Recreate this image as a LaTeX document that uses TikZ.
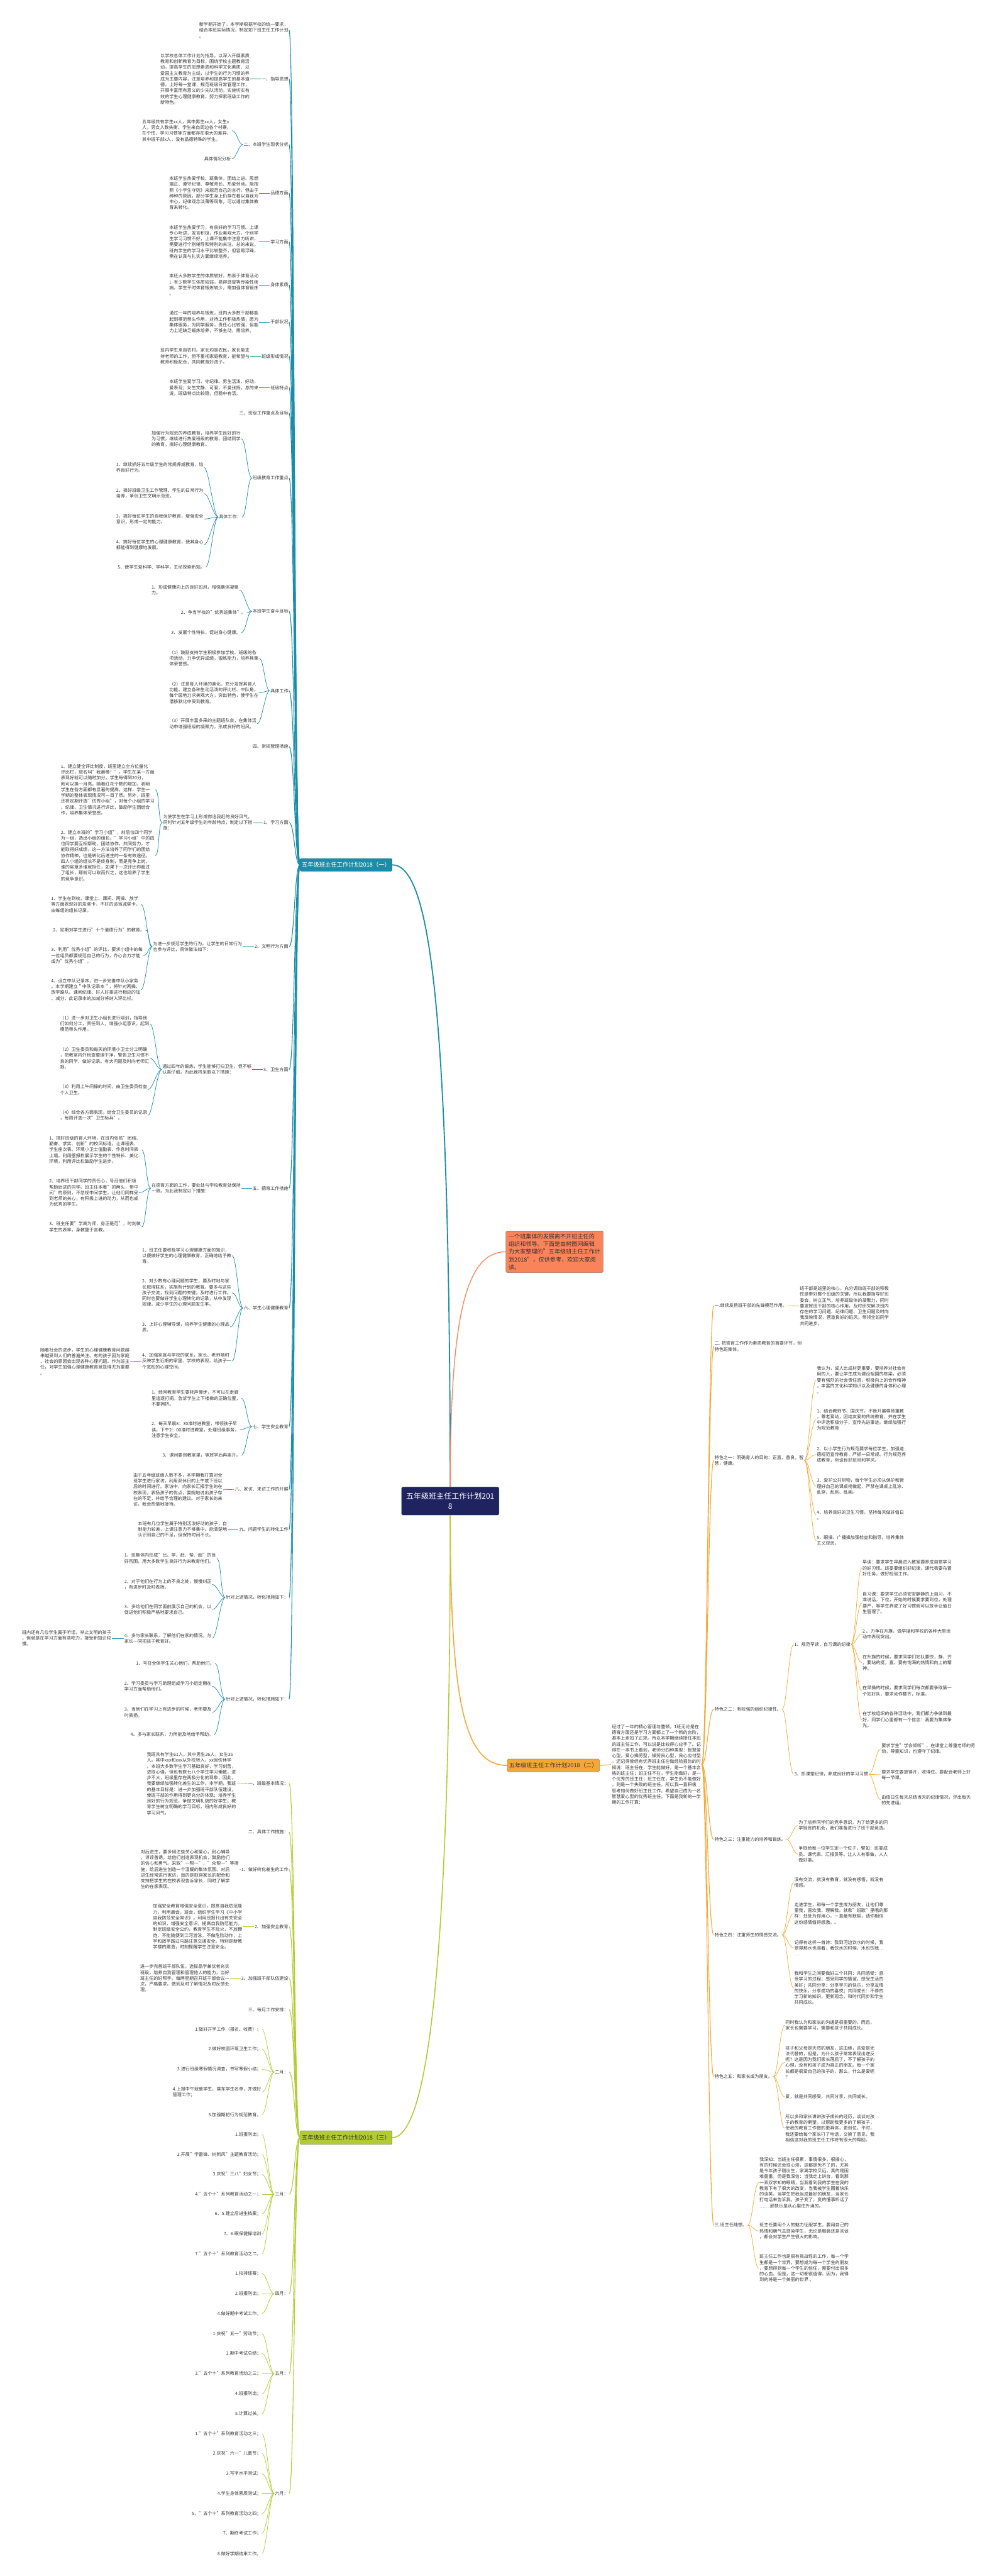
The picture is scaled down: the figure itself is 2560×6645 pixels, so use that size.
\documentclass[tikz,border=0pt]{standalone}
\usepackage{fontspec}
\setmainfont{Noto Sans CJK SC}
\definecolor{inkc}{HTML}{333333}
\definecolor{navyc}{HTML}{1F2461}
\definecolor{tealc}{HTML}{1A8EA9}
\definecolor{orangec}{HTML}{F5A736}
\definecolor{greenc}{HTML}{B3CB32}
\definecolor{coralc}{HTML}{F9845A}
\begin{document}
\begin{tikzpicture}[x=1pt,y=-1pt]
    % Define styles for shapes
    \tikzstyle{txt} = [inner sep=0pt, outer sep=2pt, align=left, text=inkc, font=\fontsize{11.5}{15}\selectfont]
    \tikzstyle{lbl} = [inner sep=0pt, outer sep=2pt, text=inkc, font=\fontsize{11.5}{15}\selectfont]
    \tikzstyle{rootbox} = [draw=tealc!60, fill=navyc, text=white, rounded corners=4pt, minimum width=252pt, minimum height=73pt, align=center, font=\fontsize{19.5}{25.5}\selectfont]
    \tikzstyle{branchbox} = [draw=black!75, rounded corners=3pt, minimum width=238pt, minimum height=33pt, font=\fontsize{15}{18}\selectfont]
    \tikzstyle{introbox} = [draw=black!75, fill=coralc, text=inkc, rounded corners=3pt, inner sep=7pt, align=left, font=\fontsize{14.8}{20}\selectfont]
    \tikzstyle{tealline} = [tealc, line width=1.8pt]
    \tikzstyle{tealthin} = [tealc, line width=1.2pt]
    \tikzstyle{orangeline} = [orangec, line width=1.8pt]
    \tikzstyle{orangethin} = [orangec, line width=1.2pt]
    \tikzstyle{greenline} = [greenc, line width=1.8pt]
    \tikzstyle{greenthin} = [greenc, line width=1.2pt]

    \useasboundingbox (0,0) rectangle (2560,6645);

    % Draw the centre and the three plans
    \node[rootbox] (root) at (1162,3872) {五年级班主任工作计划201\\8};
    \node[branchbox, fill=tealc, text=white] (b1) at (893,2231) {五年级班主任工作计划2018（一）};
    \node[branchbox, fill=orangec, text=inkc] (b2) at (1428,4554) {五年级班主任工作计划2018（二）};
    \node[branchbox, fill=greenc, text=inkc, minimum height=35pt] (b3) at (893,5514) {五年级班主任工作计划2018（三）};
    \node[introbox] (intro) at (1431,3229) {一个班集体的发展离不开班主任的\\组织和领导。下面是由树图网编辑\\为大家整理的"五年级班主任工作计\\划2018"，仅供参考，欢迎大家阅\\读。};

    \draw[tealc, line width=3pt] (root.north) .. controls (1160,2600) and (1110,2231) .. (b1.east);
    \draw[coralc, line width=2.2pt] (root.north) .. controls (1162,3400) and (1200,3229) .. (intro.west);
    \draw[orangec, line width=2.6pt] (root.south) .. controls (1162,4400) and (1200,4554) .. (b2.west);
    \draw[greenc, line width=2.6pt] (root.south) .. controls (1162,5000) and (1110,5514) .. (b3.east);

    % Plan one
    \node[txt, anchor=east] (a01) at (746,78) {新学期开始了，本学期根据学校的统一要求，\\结合本班实际情况，制定如下班主任工作计划\\。};
    \node[lbl, anchor=east] (a02) at (746,204) {一、指导思想};
    \node[txt, anchor=west] (a02t) at (412,204) {以学校总体工作计划为指导，以深入开展素质\\教育和创新教育为目标，围绕学校主题教育活\\动，提高学生的思想素质和科学文化素质、以\\爱国主义教育为主线，以学生的行为习惯的养\\成为主要内容，注意培养和提高学生的基本道\\德。上好每一堂课，规范班级日常管理工作，\\开展丰富而有意义的少先队活动，实施切实有\\效的学生心理健康教育。努力探索班级工作的\\新特色。};
    \node[lbl, anchor=east] (a03) at (746,373) {二、本班学生现状分析};
    \node[txt, anchor=west] (a03a) at (365,337) {五年级共有学生xx人，其中男生xx人，女生x\\人，男女人数失衡。学生来自周边各个村寨，\\在个性、学习习惯等方面都存在很大的差异，\\其中班干部x人，没有品德特殊的学生。};
    \node[lbl, anchor=east] (a03b) at (598,410) {具体情况分析};
    \node[lbl, anchor=east] (a04) at (746,498) {品德方面};
    \node[txt, anchor=west] (a04t) at (435,498) {本班学生热爱学校、班集体，团结上进、思想\\端正、遵守纪律、尊敬师长、热爱劳动。能按\\照《小学生守则》来规范自己的言行。但由于\\种种的原因，部分学生身上仍存在着以自我为\\中心，纪律观念淡薄等现象，可以通过集体教\\育来转化。};
    \node[lbl, anchor=east] (a05) at (746,624) {学习方面};
    \node[txt, anchor=west] (a05t) at (435,624) {本班学生热爱学习，有良好的学习习惯。上课\\专心听讲，发言积极，作业美观大方。个别学\\生学习习惯不好，上课不能集中注意力听讲，\\需要进行个别辅导和特别的关注。总的来说，\\班内学生的学习水平比较整齐，但容易浮躁，\\需在认真与扎实方面继续培养。};
    \node[lbl, anchor=east] (a06) at (746,735) {身体素质};
    \node[txt, anchor=west] (a06t) at (435,735) {本班大多数学生的体质较好，热衷于体育活动\\；有少数学生体质较弱，易得感冒等传染性疾\\病。学生平时体育锻炼较少，需加强体育锻炼\\。};
    \node[lbl, anchor=east] (a07) at (746,831) {干部状况};
    \node[txt, anchor=west] (a07t) at (435,831) {通过一年的培养与锻炼，班内大多数干部都能\\起到模范带头作用，对待工作积极热情，愿为\\集体服务，为同学服务，责任心比较强，但能\\力上还缺乏锻炼培养，不够主动，需培养。};
    \node[lbl, anchor=east] (a08) at (746,919) {班级形成情况};
    \node[txt, anchor=west] (a08t) at (412,919) {班内学生来自农村。家长均是农民。家长能支\\持老师的工作，但不重视家庭教育，能希望与\\教师积极配合，共同教育好孩子。};
    \node[lbl, anchor=east] (a09) at (746,1000) {班级特点};
    \node[txt, anchor=west] (a09t) at (435,1000) {本班学生爱学习、守纪律。男生活泼、好动，\\爱表现；女生文静、可爱，不爱张扬。总的来\\说，班级特点比较稳，但稳中有活。};
    \node[lbl, anchor=east] (a10) at (746,1066) {三、班级工作重点及目标};
    \node[lbl, anchor=east] (a11) at (746,1233) {班级教育工作重点};
    \node[txt, anchor=west] (a11a) at (389,1132) {加强行为规范的养成教育，培养学生良好的行\\为习惯，继续进行热爱班级的教育、团结同学\\的教育，搞好心理健康教育。};
    \node[lbl, anchor=west] (a11b) at (563,1334) {具体工作：};
    \node[txt, anchor=west] (a11b1) at (298,1206) {1、继续抓好五年级学生的常规养成教育，培\\养良好行为。};
    \node[txt, anchor=west] (a11b2) at (298,1273) {2、搞好班级卫生工作管理、学生的日常行为\\培养，争创卫生文明示范班。};
    \node[txt, anchor=west] (a11b3) at (298,1339) {3、搞好每位学生的自我保护教育，增强安全\\意识，形成一定的能力。};
    \node[txt, anchor=west] (a11b4) at (298,1405) {4、搞好每位学生的心理健康教育，使其身心\\都能得到健康地发展。};
    \node[txt, anchor=west] (a11b5) at (302,1463) {5、使学生爱科学、学科学，主动探索新知。};
    \node[lbl, anchor=east] (a12) at (746,1577) {本班学生奋斗目标};
    \node[txt, anchor=west] (a12a) at (389,1522) {1、形成健康向上的良好班风，增强集体凝聚\\力。};
    \node[txt, anchor=west] (a12b) at (465,1580) {2、争当学校的"优秀班集体"。};
    \node[txt, anchor=west] (a12c) at (440,1632) {3、发展个性特长，促进身心健康。};
    \node[lbl, anchor=east] (a13) at (746,1782) {具体工作};
    \node[txt, anchor=west] (a13a) at (435,1698) {（1）鼓励支持学生积极参加学校、班级的各\\项活动，力争优异成绩，锻炼能力，培养其集\\体荣誉感。};
    \node[txt, anchor=west] (a13b) at (435,1787) {（2）注意育人环境的美化，充分发挥其育人\\功能。建立各种生动活泼的评比栏、中队角，\\每个园地力求美观大方，突出特色，使学生在\\潜移默化中受到教育。};
    \node[txt, anchor=west] (a13c) at (435,1867) {（3）开展丰富多采的主题班队会，在集体活\\动中增强班级的凝聚力，形成良好的班风。};
    \node[lbl, anchor=east] (a14) at (746,1926) {四、常规管理措施};
    \node[lbl, anchor=east] (a15) at (746,2122) {1、学习方面};
    \node[txt, anchor=west] (a15t) at (419,2122) {为使学生在学习上形成你追我赶的良好风气，\\同时针对五年级学生的年龄特点，制定以下措\\施：};
    \node[txt, anchor=west] (a15t1) at (155,2037) {1、建立健全评比制度，班里建立全方位量化\\评比栏，取名叫"我最棒！"。学生在某一方面\\表现好就可以随时加分，学生每得到20分，\\就可以换一月亮。随着红花个数的增加，表明\\学生在各方面都有显著的提高。这样，学生一\\学期的整体表现情况可一目了然。另外，班里\\还将定期评选"优秀小组"，对每个小组的学习\\、纪律、卫生情况进行评比，鼓励学生团结合\\作，培养集体荣誉感。};
    \node[txt, anchor=west] (a15t2) at (155,2207) {2、建立本班的"学习小组"，前后位四个同学\\为一组，选出小组的组长。"学习小组"中的四\\位同学要互相帮助，团结协作，共同努力，才\\能取得好成绩，这一方法培养了同学们的团结\\协作精神，也是转化后进生的一条有效途径。\\四人小组的组长不是终身制，而是竞争上岗，\\谁的奖章多谁就担任，如果下一次评比你超过\\了组长，那就可以取而代之，这也培养了学生\\的竞争意识。};
    \node[lbl, anchor=east] (a16) at (746,2442) {2、文明行为方面};
    \node[txt, anchor=west] (a16t) at (393,2442) {为进一步规范学生的行为，让学生的日常行为\\也参与评比，具体做法如下：};
    \node[txt, anchor=west] (a16t1) at (130,2333) {1、学生在到校、课堂上、课间、两操、放学\\等方面表现好的发奖卡，不好的适当减奖卡，\\由每组的组长记录。};
    \node[txt, anchor=west] (a16t2) at (135,2399) {2、定期对学生进行"十个道德行为"的教育。};
    \node[txt, anchor=west] (a16t3) at (130,2465) {3、利用"优秀小组"的评比，要求小组中的每\\一位组员都要规范自己的行为，齐心合力才能\\成为"优秀小组"。};
    \node[txt, anchor=west] (a16t4) at (130,2553) {4、设立中队记录本，进一步完善中队小家务\\。本学期建立＂中队记录本＂，将针对两操、\\放学路队、课间纪律、好人好事进行相应的加\\、减分，此记录本的加减分将纳入评比栏。};
    \node[lbl, anchor=east] (a17) at (746,2759) {3、卫生方面};
    \node[txt, anchor=west] (a17t) at (417,2759) {通过四年的锻炼，学生能够打扫卫生，但不够\\认真仔细，为此我将采取以下措施：};
    \node[txt, anchor=west] (a17t1) at (153,2641) {（1）进一步对卫生小组长进行培训，指导他\\们如何分工，责任到人，增强小组意识，起到\\模范带头作用。};
    \node[txt, anchor=west] (a17t2) at (153,2730) {（2）卫生委员和每天的环境小卫士分工明确\\，把教室内外检查整理干净，警告卫生习惯不\\良的同学，做好记录。有大问题及时向老师汇\\报。};
    \node[txt, anchor=west] (a17t3) at (153,2811) {（3）利用上午间操的时间，由卫生委员检查\\个人卫生。};
    \node[txt, anchor=west] (a17t4) at (153,2877) {（4）综合各方面表现，结合卫生委员的记录\\，每周评选一次"卫生标兵"。};
    \node[lbl, anchor=east] (a18) at (746,3065) {五、德育工作措施};
    \node[txt, anchor=west] (a18t) at (389,3065) {在德育方面的工作，要处处与学校教育处保持\\一致。为此我制定以下措施：};
    \node[txt, anchor=west] (a18t1) at (125,2966) {1、搞好班级的育人环境，在班内张贴"团结、\\勤奋、求实、创新"的校风标语。让课程表、\\学生座次表、环境小卫士值勤表、作息时间表\\上墙。利用壁报栏展示学生的个性特长、美化\\环境，利用评比栏鼓励学生进步。};
    \node[txt, anchor=west] (a18t2) at (125,3077) {2、培养班干部同学的责任心，号召他们积极\\帮助后进的同学。班主任本着"抓两头，带中\\间"的原则，不忽视中间学生，让他们同样受\\到老师的关心，有积极上进的动力，从而也成\\为优秀的学生。};
    \node[txt, anchor=west] (a18t3) at (125,3165) {3、班主任要"学高为师，身正是范"，时刻做\\学生的表率，身教重于言教。};
    \node[lbl, anchor=east] (a19) at (746,3374) {六、学生心理健康教育};
    \node[txt, anchor=west] (a19a) at (365,3239) {1、班主任要积极学习心理健康方面的知识，\\以便做好学生的心理健康教育，正确地给予教\\育。};
    \node[txt, anchor=west] (a19b) at (365,3335) {2、对少数有心理问题的学生，要及时地与家\\长取得联系，实施有计划的教育。要多与这些\\孩子交流，找到问题的关键，及时进行工作。\\同时也要做好学生心理转化的记录，从中发现\\规律，减少学生的心理问题发生率。};
    \node[txt, anchor=west] (a19c) at (365,3423) {3、上好心理辅导课，培养学生健康的心理品\\质。};
    \node[txt, anchor=west] (a19d) at (365,3511) {4、加强家庭与学校的联系，家长、老师随时\\反映学生近期的家里、学校的表现，给孩子一\\个宽松的心理空间。};
    \node[txt, anchor=west] (a19e) at (102,3512) {随着社会的进步，学生的心理健康教育问题越\\来越受到人们的普遍关注。有的孩子因为家庭\\、社会的原因会出现各种心理问题。作为班主\\任，对学生加强心理健康教育就显得尤为重要\\。};
    \node[lbl, anchor=east] (a20) at (746,3680) {七、学生安全教育};
    \node[txt, anchor=west] (a20a) at (389,3607) {1、经常教育学生要轻声慢步，不可以在走廊\\里追逐打闹。告诉学生上下楼梯的正确位置，\\不要拥挤。};
    \node[txt, anchor=west] (a20b) at (389,3688) {2、每天早晨8：30准时进教室，带领孩子早\\读。下午2：00准时进教室，处理班级事务，\\注意学生安全。};
    \node[txt, anchor=west] (a20c) at (417,3754) {3、课间要到教室里，等放学后再离开。};
    \node[lbl, anchor=east] (a21) at (746,3842) {八、家访、来访工作的开展};
    \node[txt, anchor=west] (a21t) at (342,3843) {由于五年级班级人数不多，本学期我打算对全\\班学生进行家访，利用双休日的上午或下班以\\后的时间进行。家访中，向家长汇报学生的在\\校表现，表扬孩子的优点，委婉地说出孩子存\\在的不足，并给予合理的建议。对于家长的来\\访，我会热情地接待。};
    \node[lbl, anchor=east] (a22) at (746,3945) {九、问题学生的转化工作};
    \node[txt, anchor=west] (a22t) at (354,3945) {本班有几位学生属于特别活泼好动的孩子，自\\制能力较差，上课注意力不够集中。能清楚地\\认识到自己的不足，但保持时间不长。};
    \node[lbl, anchor=east] (a23) at (746,4121) {针对上述情况，转化措施如下：};
    \node[txt, anchor=west] (a23a) at (319,4020) {1、班集体内形成"比、学、赶、帮、超"的良\\好氛围，用大多数学生良好行为来教育他们。};
    \node[txt, anchor=west] (a23b) at (319,4087) {2、对于他们在行为上的不良之处，慢慢纠正\\，有进步时及时表扬。};
    \node[txt, anchor=west] (a23c) at (319,4152) {3、多给他们在同学面前展示自己的机会，以\\促进他们积极严格地要求自己。};
    \node[txt, anchor=west] (a23d) at (319,4226) {4、多与家长联系，了解他们在家的情况。与\\家长一同把孩子教育好。};
    \node[txt, anchor=west] (a23e) at (55,4226) {班内还有几位学生属于听话，举止文明的孩子\\，但就是在学习方面有些吃力，接受新知识较\\慢。};
    \node[lbl, anchor=east] (a24) at (746,4383) {针对上述情况，转化措施如下：};
    \node[txt, anchor=west] (a24a) at (349,4291) {1、号召全体学生关心他们，帮助他们。};
    \node[txt, anchor=west] (a24b) at (319,4350) {2、学习委员与学习助理组成学习小组定期在\\学习方面帮助他们。};
    \node[txt, anchor=west] (a24c) at (319,4417) {3、当他们在学习上有进步的时候，老师要及\\时表扬。};
    \node[txt, anchor=west] (a24d) at (335,4474) {4、多与家长联系，力所能及地给予帮助。};

    \foreach \n in {a01,a02,a03,a04,a05,a06,a07,a08,a09,a10,a11,a12,a13,a14,a15,a16,a17,a18,a19,a20,a21,a22,a23,a24}
        \draw[tealline] (b1.west) .. controls +(-14,0) and +(14,0) .. (\n.east);
    \foreach \p/\c in {a02/a02t,a04/a04t,a05/a05t,a06/a06t,a07/a07t,a08/a08t,a09/a09t,a15/a15t,a16/a16t,a17/a17t,a18/a18t,a21/a21t,a22/a22t,a19d/a19e,a23d/a23e}
        \draw[tealthin] (\p.west) -- (\c.east);
    \foreach \p/\c in {a03/a03a,a03/a03b,a11/a11a,a11/a11b,a11b/a11b1,a11b/a11b2,a11b/a11b3,a11b/a11b4,a11b/a11b5,a12/a12a,a12/a12b,a12/a12c,a13/a13a,a13/a13b,a13/a13c,a15t/a15t1,a15t/a15t2,a16t/a16t1,a16t/a16t2,a16t/a16t3,a16t/a16t4,a17t/a17t1,a17t/a17t2,a17t/a17t3,a17t/a17t4,a18t/a18t1,a18t/a18t2,a18t/a18t3,a19/a19a,a19/a19b,a19/a19c,a19/a19d,a20/a20a,a20/a20b,a20/a20c,a23/a23a,a23/a23b,a23/a23c,a23/a23d,a24/a24a,a24/a24b,a24/a24c,a24/a24d}
        \draw[tealthin] (\p.west) .. controls +(-12,0) and +(12,0) .. (\c.east);

    % Plan two
    \node[txt, anchor=west] (r0) at (1577,4552) {经过了一年的精心管理与整顿，1班无论是在\\德育方面还是学习方面都上了一个新的台阶，\\基本上走如了正规。所以本学期继续接任本班\\的班主任工作，可以说是比较得心应手了。记\\得在一本书上看到，老师分四种类型：智慧爱\\心型，爱心操劳型，操劳良心型，良心应付型\\。还记得曾经有优秀班主任在做经验报告的时\\候说：班主任在，学生能做好，是一个基本合\\格的班主任；班主任不在，学生能做好，是一\\个优秀的班主任；班主任在，学生仍不能做好\\，则是一个失败的班主任。所以我一直积极\\思考如何做好班主任工作，希望自己成为一名\\智慧爱心型的优秀班主任。下面是我新的一学\\期的工作打算：};
    \node[lbl, anchor=west] (r1) at (1842,3368) {一.继续发扬班干部的先锋模范作用。};
    \node[txt, anchor=west] (r1t) at (2062,3369) {班干部是班里的核心，充分调动班干部的积极\\性是带好整个班级的关键，所以我要指导好班\\委会，树立正气，培养班级体的凝聚力，同时\\要发挥班干部的核心作用，及时研究解决班内\\存在的学习问题、纪律问题、卫生问题及时向\\我反映情况，营造良好的班风，带领全班同学\\共同进步。};
    \node[txt, anchor=west] (r2) at (1842,3473) {二. 把德育工作作为素质教育的首要环节，创\\特色班集体。};
    \node[txt, anchor=west] (r3) at (1842,3767) {特色之一：明确育人的目的：正直，善良，智\\慧，健康。};
    \node[txt, anchor=west] (r3a) at (2106,3560) {我认为，成人比成材更重要，要培养对社会有\\用的人，要让学生成为建设祖国的栋梁，必须\\要有强烈的社会责任感，积极向上的合作精神\\，丰富的文化科学知识以及健康的身体和心理\\。};
    \node[txt, anchor=west] (r3b) at (2106,3662) {1、结合教师节、国庆节，不断开展尊师重教\\，尊老爱幼，团结友爱的传统教育，并在学生\\中评选积极分子，宣传先进事迹。继续加强行\\为规范教育};
    \node[txt, anchor=west] (r3c) at (2106,3752) {2、以小学生行为规范要求每位学生，加强道\\德规范宣传教育，严抓一日常规、行为规范养\\成教育，创设良好班风和学风。};
    \node[txt, anchor=west] (r3d) at (2106,3834) {3、爱护公共财物，每个学生必须从保护和管\\理好自己的课桌椅做起，严禁在课桌上乱涂、\\乱穿、乱刻、乱画。};
    \node[txt, anchor=west] (r3e) at (2106,3908) {4、培养良好的卫生习惯，坚持每天做好值日\\。};
    \node[txt, anchor=west] (r3f) at (2106,3974) {5、眼操、广播操加强检查和指导。培养集体\\主义观念。};
    \node[lbl, anchor=west] (r4) at (1842,4409) {特色之二：有较强的组织纪律性。};
    \node[lbl, anchor=west] (r4a) at (2048,4242) {1、规范早读，自习课的纪律};
    \node[txt, anchor=west] (r4a1) at (2224,4045) {早读：要求学生早晨进入教室要养成自觉学习\\的好习惯。班委要组织好纪律，课代表要布置\\好任务，做好检验工作。};
    \node[txt, anchor=west] (r4a2) at (2224,4135) {自习课：要求学生必须安安静静的上自习，不\\准说话，下位，开始的时候要求要到位，处理\\要严，等学生养成了好习惯就可以放手让值日\\生管理了。};
    \node[txt, anchor=west] (r4a3) at (2224,4215) {2 、力争在升旗，做早操和学校的各种大型活\\动中表现突出。};
    \node[txt, anchor=west] (r4a4) at (2224,4289) {在升旗的时候，要求同学们站队要快，静，齐\\，要站的挺，直。要有饱满的热情和向上的精\\神。};
    \node[txt, anchor=west] (r4a5) at (2224,4362) {在早操的时候，要求同学们每次都要争取第一\\个站好队，要求动作整齐，标准。};
    \node[txt, anchor=west] (r4a6) at (2224,4436) {在学校组织的各种活动中，我们都力争做到最\\好，同学们心里都有一个信念：我要为集体争\\光。};
    \node[lbl, anchor=west] (r4b) at (2048,4577) {3、抓课堂纪律，养成良好的学习习惯};
    \node[txt, anchor=west] (r4b1) at (2273,4511) {要求学生"学会倾听"，在课堂上尊重老师的劳\\动，尊重知识，也遵守了纪律。};
    \node[txt, anchor=west] (r4b2) at (2273,4578) {要求学生要放得开，收得住。要配合老师上好\\每一节课。};
    \node[txt, anchor=west] (r4b3) at (2273,4643) {由值日生每天总结当天的纪律情况，评出每天\\的先进组。};
    \node[lbl, anchor=west] (r5) at (1842,4745) {特色之三：注重能力的培养和锻炼。};
    \node[txt, anchor=west] (r5a) at (2059,4709) {为了培养同学们的竞争意识，为了给更多的同\\学锻炼的机会，我们准备进行了班干部竞选。};
    \node[txt, anchor=west] (r5b) at (2059,4783) {争取给每一位学生定一个位子，譬如：班委成\\员、课代表、汇报员等。让人人有事做，人人\\做好事。};
    \node[lbl, anchor=west] (r6) at (1842,4991) {特色之四：注重师生的情感交流。};
    \node[txt, anchor=west] (r6a) at (2048,4856) {没有交流，就没有教育，就没有感悟，就没有\\情感。};
    \node[txt, anchor=west] (r6b) at (2048,4936) {走进学生，和每一个学生成为朋友，让他们尊\\重我，喜欢我，理解我。就象"班歌"里唱的那\\样：处处为你用心，一直最有默契，请你相信\\这份感情值得感激。。};
    \node[txt, anchor=west] (r6c) at (2048,5025) {记得有这样一首诗：我到河边饮水的时候，我\\觉得那水也渴着，我饮水的时候，水也饮我…\\…};
    \node[txt, anchor=west] (r6d) at (2048,5128) {我和学生之间要做好三个共同：共同感受：感\\受学习的过程；感受同学的情谊，感受生活的\\美好；共同分享：分享学习的快乐，分享友情\\的快乐，分享成功的喜悦；共同成长：不停的\\学习新的知识，更新观念，和时代同步和学生\\共同成长。};
    \node[lbl, anchor=west] (r7) at (1842,5357) {特色之五：和家长成为朋友。};
    \node[txt, anchor=west] (r7a) at (2025,5224) {同时我认为和家长的沟通是很重要的，而且，\\家长也需要学习，需要和孩子共同成长。};
    \node[txt, anchor=west] (r7b) at (2025,5320) {孩子和父母是天然的朋友，这血缘，这爱是无\\法代替的，但是，为什么孩子常常表现出逆反\\呢？这是因为我们家长落后了，不了解孩子的\\心理，没有和孩子成为真正的朋友。每一个家\\长都是很爱自己的孩子的，那么，什么是爱呢\\？};
    \node[txt, anchor=west] (r7c) at (2025,5409) {爱，就是共同感受，共同分享，共同成长。};
    \node[txt, anchor=west] (r7d) at (2025,5490) {所以多和家长讲讲孩子成长的经历，谈谈对孩\\子的教育的期望。以帮助我更多的了解孩子，\\使我的教育工作做的更具体，更到位。平时，\\我还要给每个家长打了电话，交换了意见，我\\相信这对我的班主任工作将有很大的帮助。};
    \node[lbl, anchor=west] (r8) at (1842,5740) {三.班主任随想。};
    \node[txt, anchor=west] (r8a) at (1958,5630) {我深知：当班主任很累，事情很多，很操心，\\有的时候还会很心烦，这都是免不了的，尤其\\是今年孩子刚出生，家离学校又远，真的是困\\难重重。但是我深信：当我走上讲台，看到那\\一双双求知的眼睛，当我看到我的学生在我的\\教育下有了很大的改变，当我被学生围着快乐\\的谈笑，当学生把我当成最好的朋友，当家长\\打电话来告诉我，孩子变了，变的懂事听话了\\…… 那快乐是从心里往外涌的。};
    \node[txt, anchor=west] (r8b) at (1958,5755) {班主任要用个人的魅力征服学生，要用自己的\\热情和朝气去感染学生，无论是服装还是言谈\\，都会对学生产生很大的影响。};
    \node[txt, anchor=west] (r8c) at (1958,5851) {班主任工作也是很有挑战性的工作，每一个学\\生都是一个世界，要想成为每一个学生的朋友\\，要想得到每一个学生的信任，需要付出很多\\的心血。但是，这一切都很值得，因为，我得\\到的将是一个美丽的世界 。};

    \draw[orangeline] (b2.east) -- (r0.west);
    \foreach \n in {r1,r2,r3,r4,r5,r6,r7,r8}
        \draw[orangeline] (r0.east) .. controls +(14,0) and +(-14,0) .. (\n.west);
    \draw[orangethin] (r1.east) -- (r1t.west);
    \foreach \p/\c in {r3/r3a,r3/r3b,r3/r3c,r3/r3d,r3/r3e,r3/r3f,r4/r4a,r4/r4b,r4a/r4a1,r4a/r4a2,r4a/r4a3,r4a/r4a4,r4a/r4a5,r4a/r4a6,r4b/r4b1,r4b/r4b2,r4b/r4b3,r5/r5a,r5/r5b,r6/r6a,r6/r6b,r6/r6c,r6/r6d,r7/r7a,r7/r7b,r7/r7c,r7/r7d,r8/r8a,r8/r8b,r8/r8c}
        \draw[orangethin] (\p.east) .. controls +(12,0) and +(-12,0) .. (\c.west);

    % Plan three
    \node[lbl, anchor=east] (g01) at (746,4600) {一、班级基本情况：};
    \node[txt, anchor=west] (g01t) at (377,4601) {我班共有学生61人，其中男生26人，女生35\\人。其中xxx和xxx从外校转入，xx因伤休学\\。本班大多数学生学习基础良好，学习刻苦，\\进取心强，但也有数七八个学生学习懒散，进\\步不大，班级里存在两极分化的现象，因此，\\我要继续加强转化差生的工作。本学期，我班\\的基本目标是：进一步加强班干部队伍建设，\\使班干部的作用得到更充分的体现；培养学生\\良好的行为规范，争做文明礼貌的好学生；教\\育学生树立明确的学习目标，班内形成良好的\\学习风气。};
    \node[lbl, anchor=east] (g02) at (746,4726) {二、具体工作措施：};
    \node[lbl, anchor=east] (g03) at (746,4822) {1、做好转化差生的工作};
    \node[txt, anchor=west] (g03t) at (361,4822) {对后进生，要多倾注些关心和爱心，耐心辅导\\，谆谆善诱。给他们创造表现机会，鼓励他们\\的信心和勇气。采取"一帮一"，"众帮一"等措\\施，给后进生创造一个温暖的集体氛围。对后\\进生经常进行家访，目的是取得家长的配合和\\支持把学生的在校表现告诉家长，同时了解学\\生的在家表现。};
    \node[lbl, anchor=east] (g04) at (746,4970) {2、加强安全教育};
    \node[txt, anchor=west] (g04t) at (393,4970) {加强安全教育增强安全意识，提高自我防范能\\力，利用晨会，班会，组织学生学习《中小学\\自我防范安全常识》。利用班报刊出有关安全\\的知识，增强安全意识，提高自我防范能力。\\制定班级安全公约，教育学生不玩火，不放鞭\\炮，不能随便到江河游泳，不做危险动作，上\\学和放学路过马路注意交通安全。特别是新教\\学楼的建造，时刻提醒学生注意安全。};
    \node[lbl, anchor=east] (g05) at (746,5103) {3、加强班干部队伍建设};
    \node[txt, anchor=west] (g05t) at (360,5103) {进一步完善班干部队伍，选拔品学兼优者充实\\班级，培养自我管理和管理他人的能力，当好\\班主任的好帮手。每两星期召开班干部会议一\\次，严格要求。做到及时了解情况及时反馈处\\理。};
    \node[lbl, anchor=east] (g06) at (746,5184) {三、每月工作安排：};
    \node[lbl, anchor=east] (g07) at (746,5345) {二月：};
    \node[lbl, anchor=east] (g08) at (746,5660) {三月：};
    \node[lbl, anchor=east] (g09) at (746,5917) {四月：};
    \node[lbl, anchor=east] (g10) at (746,6123) {五月：};
    \node[lbl, anchor=east] (g11) at (746,6432) {六月：};

    % Draw the items of each month
    \foreach \y/\t [count=\i] in {5235/1.做好开学工作（报名、收费）；, 5286/2.做好校园环境卫生工作；, 5338/3.进行班级寒假情况调查，书写寒假小结；, 5397/4.上报中午就餐学生、乘车学生名单，并做好\\管理工作；, 5455/5.加强期初行为规范教育。} {
        \node[txt, anchor=east] (m2-\i) at (676,\y) {\t};
        \draw[greenthin] (g07.west) .. controls +(-12,0) and +(12,0) .. (m2-\i.east);
    }
    \foreach \y/\t [count=\i] in {5506/1.班报刊出；, 5558/2.开展"学雷锋、树新风"主题教育活动；, 5609/3.庆祝"三八"妇女节；, 5660/4."五个十"系列教育活动之一；, 5711/6、5.建立后进生档案；, 5762/7、6.眼保健操培训, 5814/7."五个十"系列教育活动之二。} {
        \node[txt, anchor=east] (m3-\i) at (676,\y) {\t};
        \draw[greenthin] (g08.west) .. controls +(-12,0) and +(12,0) .. (m3-\i.east);
    }
    \foreach \y/\t [count=\i] in {5865/1.校排球赛；, 5917/2.班报刊出；, 5968/4.做好期中考试工作。} {
        \node[txt, anchor=east] (m4-\i) at (676,\y) {\t};
        \draw[greenthin] (g09.west) .. controls +(-12,0) and +(12,0) .. (m4-\i.east);
    }
    \foreach \y/\t [count=\i] in {6020/1.庆祝"五一"劳动节；, 6071/2.期中考试总结；, 6123/3."五个十"系列教育活动之三；, 6175/4.班报刊出；, 6226/5.计算过关。} {
        \node[txt, anchor=east] (m5-\i) at (676,\y) {\t};
        \draw[greenthin] (g10.west) .. controls +(-12,0) and +(12,0) .. (m5-\i.east);
    }
    \foreach \y/\t [count=\i] in {6278/1."五个十"系列教育活动之三；, 6329/2.庆祝"六一"儿童节；, 6381/3.写字水平测试；, 6432/4.学生身体素质测试；, 6484/5、"五个十"系列教育活动之四；, 6535/7、期终考试工作；, 6587/8.做好学期结束工作。} {
        \node[txt, anchor=east] (m6-\i) at (676,\y) {\t};
        \draw[greenthin] (g11.west) .. controls +(-12,0) and +(12,0) .. (m6-\i.east);
    }

    \foreach \n in {g01,g02,g03,g04,g05,g06,g07,g08,g09,g10,g11}
        \draw[greenline] (b3.west) .. controls +(-14,0) and +(14,0) .. (\n.east);
    \foreach \p/\c in {g01/g01t,g03/g03t,g04/g04t,g05/g05t}
        \draw[greenthin] (\p.west) -- (\c.east);

\end{tikzpicture}
\end{document}
